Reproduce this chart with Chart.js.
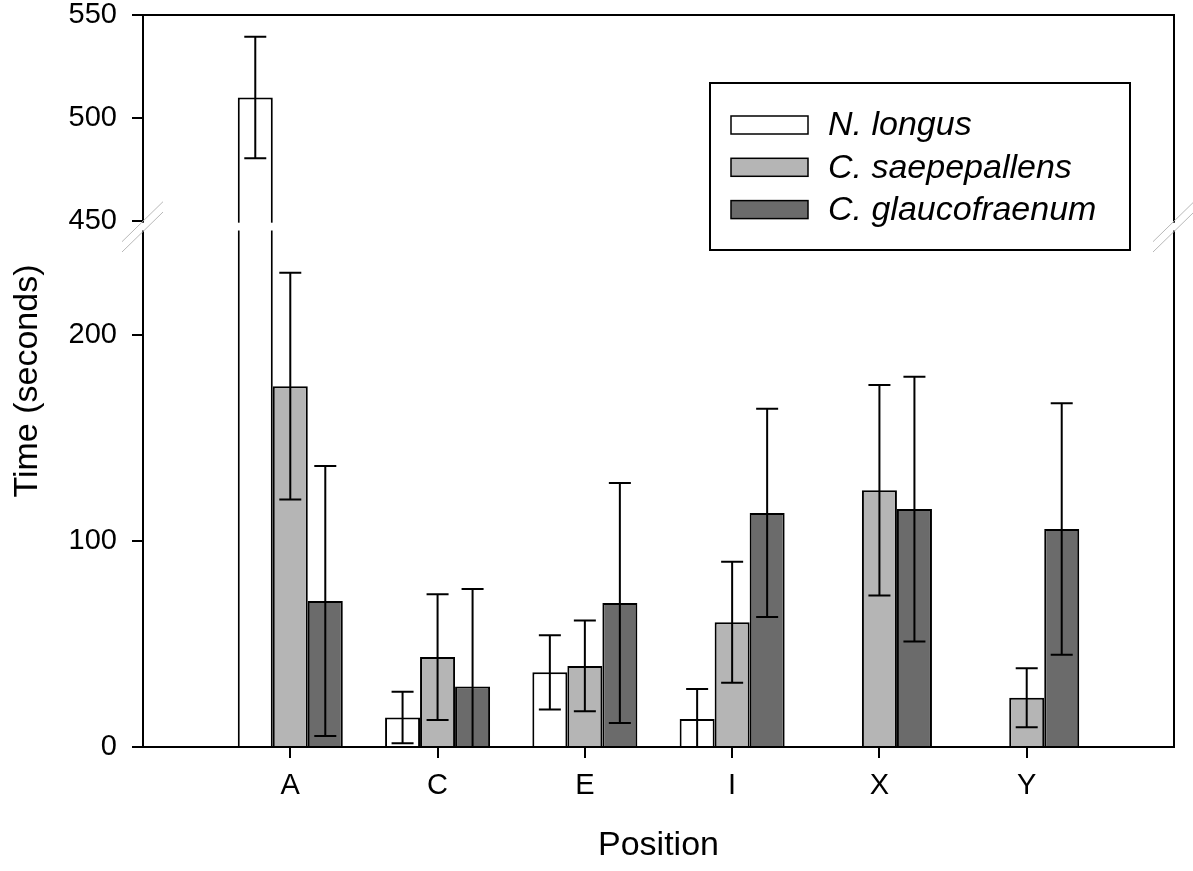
<!DOCTYPE html>
<html>
<head>
<meta charset="utf-8">
<script src="https://cdn.jsdelivr.net/npm/chart.js@4.4.1/dist/chart.umd.min.js"></script>
<style>
  html, body { margin: 0; padding: 0; background: #fff; }
  canvas { display: block; }
</style>
</head>
<body>
<canvas id="myChart" width="1193" height="871"></canvas>
<script>
// Data
const categories = ['A', 'C', 'E', 'I', 'X', 'Y'];
const nLongus = [510, 14.3, 36.2, 13.6, null, null];
const nLongusErr = [29.5, 12.5, 18, 14.5, null, null];
const cSaep = [175, 43.6, 39.3, 60.5, 124.5, 23.9];
const cSaepErr = [55, 30.5, 22, 29.3, 51, 14.3];
const cGlauc = [70.8, 29.4, 69.8, 113.5, 115.4, 105.7];
const cGlaucErr = [65.5, 47.2, 58.2, 50.5, 64.2, 61];
const yTicks = [0, 100, 200, 450, 500, 550];

// broken axis: 0-250 below, 450-550 above, small gap between
const breakLow = 250, breakHigh = 450, breakGap = 5;
function t(v) {
  if (v === null) return null;
  return v <= breakLow ? v : v - (breakHigh - breakLow) + breakGap;
}

const fontName = "'Liberation Sans', Arial, sans-serif";
const labels = [''].concat(categories, ['']);
function pad(arr) { return [null].concat(arr, [null]); }

function makeSet(label, values, errors, color) {
  return {
    label: label,
    data: pad(values.map(t)),
    raw: pad(values),
    errors: pad(errors),
    backgroundColor: color,
    borderColor: '#000',
    borderWidth: 2,
    barPercentage: 1.0,
    categoryPercentage: 0.713
  };
}

const frameBreak = {
  id: 'frameBreak',
  beforeDatasetsDraw(chart) {
    const {ctx, chartArea: a} = chart;
    ctx.save();
    ctx.strokeStyle = '#000';
    ctx.lineWidth = 2;
    ctx.beginPath();
    ctx.moveTo(a.left, a.top);
    ctx.lineTo(a.right, a.top);
    ctx.lineTo(a.right, a.bottom);
    ctx.stroke();
    ctx.restore();
  },
  afterDatasetsDraw(chart) {
    const {ctx, chartArea: a} = chart;
    const y = chart.scales.y;

    // error bars
    ctx.save();
    ctx.strokeStyle = '#000';
    ctx.lineWidth = 2;
    chart.data.datasets.forEach((ds, i) => {
      const meta = chart.getDatasetMeta(i);
      meta.data.forEach((bar, j) => {
        const v = ds.raw[j], e = ds.errors[j];
        if (v === null || e === null) return;
        const yTop = y.getPixelForValue(t(v + e));
        const low = v - e;
        const yBot = y.getPixelForValue(t(Math.max(low, 0)));
        ctx.beginPath();
        ctx.moveTo(bar.x, yTop);
        ctx.lineTo(bar.x, yBot);
        ctx.moveTo(bar.x - 11, yTop);
        ctx.lineTo(bar.x + 11, yTop);
        if (low >= 0) {
          ctx.moveTo(bar.x - 11, yBot);
          ctx.lineTo(bar.x + 11, yBot);
        }
        ctx.stroke();
      });
    });
    ctx.restore();

    // cut the axes and bars at the break
    const pHigh = y.getPixelForValue(t(breakHigh));
    const pLow = y.getPixelForValue(t(breakLow));
    ctx.save();
    ctx.fillStyle = '#fff';
    ctx.fillRect(a.left - 3, pHigh + 1.5, a.right - a.left + 6, pLow - pHigh - 2.5);
    ctx.strokeStyle = '#b8b8b8';
    ctx.lineWidth = 1;
    [a.left, a.right].forEach(x => {
      [pHigh, pLow].forEach(p => {
        ctx.beginPath();
        ctx.moveTo(x - 21, p + 20.5);
        ctx.lineTo(x + 20, p - 19.5);
        ctx.stroke();
      });
    });
    ctx.restore();
  },
  afterDraw(chart) {
    // legend box
    const {ctx} = chart;
    ctx.save();
    ctx.fillStyle = '#fff';
    ctx.fillRect(710, 83, 420, 167);
    ctx.strokeStyle = '#000';
    ctx.lineWidth = 2;
    ctx.strokeRect(710, 83, 420, 167);
    ctx.font = 'italic 34px ' + fontName;
    ctx.textBaseline = 'middle';
    chart.data.datasets.forEach((ds, i) => {
      const cy = 125 + i * 42.3;
      ctx.fillStyle = ds.backgroundColor;
      ctx.fillRect(731, cy - 9, 77, 18);
      ctx.lineWidth = 1.5;
      ctx.strokeStyle = '#000';
      ctx.strokeRect(731, cy - 9, 77, 18);
      ctx.fillStyle = '#000';
      ctx.fillText(ds.label, 828, cy + 1);
    });
    ctx.restore();
  }
};

const ctx = document.getElementById('myChart').getContext('2d');
const myChart = new Chart(ctx, {
  type: 'bar',
  data: {
    labels: labels,
    datasets: [
      makeSet('N. longus', nLongus, nLongusErr, '#ffffff'),
      makeSet('C. saepepallens', cSaep, cSaepErr, '#b5b5b5'),
      makeSet('C. glaucofraenum', cGlauc, cGlaucErr, '#6b6b6b')
    ]
  },
  plugins: [frameBreak],
  options: {
    responsive: false,
    animation: false,
    devicePixelRatio: 1,
    layout: { padding: { top: 15, right: 19, left: 0, bottom: 0 } },
    plugins: {
      legend: { display: false },
      tooltip: { enabled: false }
    },
    scales: {
      x: {
        type: 'category',
        offset: false,
        afterFit(scale) {
          scale.height = 124;
          scale.paddingLeft = 0;
          scale.paddingRight = 0;
        },
        border: { display: true, color: '#000', width: 2 },
        grid: {
          display: true,
          offset: false,
          drawOnChartArea: false,
          drawTicks: true,
          tickLength: 11,
          lineWidth: 2,
          tickColor: c => (c.index === 0 || c.index === labels.length - 1) ? 'rgba(0,0,0,0)' : '#000'
        },
        ticks: {
          color: '#000',
          padding: 11,
          maxRotation: 0,
          autoSkip: false,
          font: { family: fontName, size: 29 }
        },
        title: {
          display: true,
          text: 'Position',
          color: '#000',
          padding: { top: 0, bottom: 5 },
          font: { family: fontName, size: 34 }
        }
      },
      y: {
        type: 'linear',
        min: 0,
        max: t(550),
        afterFit(scale) {
          scale.width = 143;
          scale.paddingTop = 0;
          scale.paddingBottom = 0;
        },
        afterBuildTicks(scale) {
          scale.ticks = yTicks.map(v => ({ value: t(v) }));
        },
        border: { display: true, color: '#000', width: 2 },
        grid: {
          display: true,
          drawOnChartArea: false,
          drawTicks: true,
          tickLength: 11,
          lineWidth: 2,
          tickColor: '#000'
        },
        ticks: {
          color: '#000',
          padding: 15,
          font: { family: fontName, size: 29 },
          callback: (value, index) => yTicks[index]
        },
        title: {
          display: true,
          text: 'Time (seconds)',
          color: '#000',
          padding: { top: 7, bottom: 0 },
          font: { family: fontName, size: 34 }
        }
      }
    }
  }
});
</script>
</body>
</html>
